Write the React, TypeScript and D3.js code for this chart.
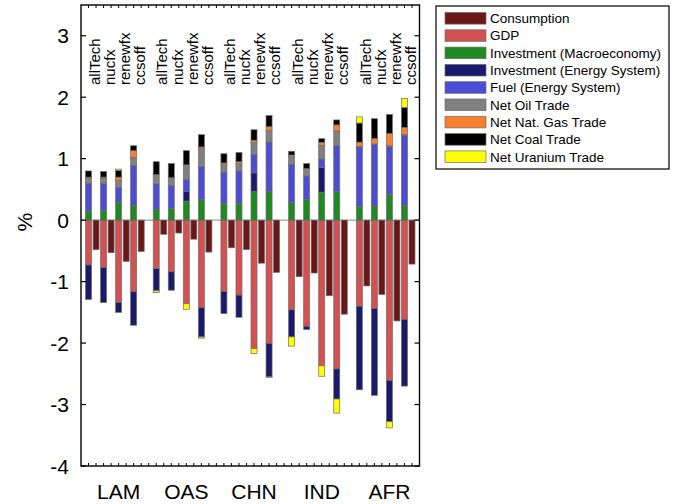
import React from "react";
import * as d3 from "d3";

// Regions and policy scenarios
const regions = ["LAM", "OAS", "CHN", "IND", "AFR"];
const scenarios = ["allTech", "nucfx", "renewfx", "ccsoff"];

// Values in %, ordered region by region, scenarios inside each region
const consumption = [-0.48, -0.53, -0.67, -0.51, -0.23, -0.21, -0.31, -0.52, -0.45, -0.48, -0.7, -0.85, -0.92, -0.86, -1.23, -1.53, -1.07, -1.21, -1.64, -0.715];
const gdp = [-0.73, -0.77, -1.34, -1.165, -0.79, -0.84, -1.36, -1.425, -1.16, -1.22, -2.09, -2.01, -1.46, -1.73, -2.37, -2.42, -1.4, -1.44, -2.61, -1.615];
const invMacro = [0.15, 0.16, 0.29, 0.24, 0.18, 0.19, 0.31, 0.34, 0.27, 0.27, 0.47, 0.47, 0.29, 0.34, 0.455, 0.47, 0.22, 0.23, 0.42, 0.24];
const invEnergy = [-0.56, -0.57, -0.16, -0.545, -0.36, -0.3, 0.16, -0.475, -0.36, -0.36, 0.3, -0.54, -0.44, -0.05, 0.4, -0.49, -1.36, -1.41, -0.67, -1.085];
const fuel = [0.45, 0.44, 0.24, 0.65, 0.41, 0.37, 0.19, 0.53, 0.51, 0.53, 0.3, 0.8, 0.62, 0.38, 0.14, 0.74, 0.97, 1.0, 0.78, 1.14];
const oilTrade = [0.08, 0.08, 0.12, 0.13, 0.15, 0.13, 0.24, 0.29, 0.12, 0.12, 0.19, 0.19, 0.12, 0.12, 0.22, 0.24, 0.01, 0.01, 0.01, 0.01];
const gasTrade = [0.02, 0.02, 0.05, 0.11, 0, 0, 0, 0.03, 0.03, 0.03, 0.04, 0.06, 0.03, 0, 0.05, 0.1, 0.07, 0.09, 0.2, 0.12];
const coalTrade = [0.1, 0.09, 0.11, 0.08, 0.21, 0.23, 0.23, 0.2, 0.15, 0.15, 0.17, 0.18, 0.06, 0.08, 0.06, 0.08, 0.31, 0.32, 0.31, 0.32];
const uraniumTrade = [0, 0, 0.02, 0, -0.03, 0, -0.09, -0.02, 0, 0, -0.08, -0.01, -0.15, 0, -0.17, -0.23, 0.1, 0, -0.1, 0.15];

const yTicks = [-4, -3, -2, -1, 0, 1, 2, 3];

const seriesNames = [
  "Consumption",
  "GDP",
  "Investment (Macroeconomy)",
  "Investment (Energy System)",
  "Fuel (Energy System)",
  "Net Oil Trade",
  "Net Nat. Gas Trade",
  "Net Coal Trade",
  "Net Uranium Trade",
];
const seriesColors = ["#6b1717", "#d55050", "#1f8a22", "#1a1a6c", "#4c4cd6", "#808080", "#fb7d2e", "#000000", "#ffff00"];

const stackKeys = seriesNames.slice(1);
const stackValues = [gdp, invMacro, invEnergy, fuel, oilTrade, gasTrade, coalTrade, uraniumTrade];

const W = 676;
const H = 504;
const font = "'Liberation Sans', Arial, sans-serif";

export default function App() {
  const x = d3.scaleLinear().domain([0, 45]).range([81, 419.5]);
  const y = d3.scaleLinear().domain([-4, 3.5]).range([466, 5]);
  const slot = x(1) - x(0);
  const bw = slot * 0.8;

  const rows = regions.flatMap((r, ri) =>
    scenarios.map((s, si) => {
      const i = ri * 4 + si;
      const row: any = { region: r, scenario: s, pos: 1 + ri * 9 + si * 2, cons: consumption[i] };
      stackKeys.forEach((k, ki) => (row[k] = stackValues[ki][i]));
      return row;
    })
  );

  const stacked = d3.stack<any>().keys(stackKeys).offset(d3.stackOffsetDiverging)(rows);

  const colorOf = (k: string) => seriesColors[seriesNames.indexOf(k)];
  const [x0, x1] = x.range();
  const [yb, yt] = y.range();

  return (
    <svg width={W} height={H} style={{ position: "absolute", left: 0, top: 0, background: "#fff" }} fontFamily={font}>
      {/* zero line */}
      <line x1={x0} x2={x1} y1={y(0)} y2={y(0)} stroke="#8a8a8a" strokeWidth={1} />

      {/* stacked bars */}
      {stacked.map((layer) =>
        layer.map((d, j) => {
          const top = y(Math.max(d[0], d[1]));
          const h = Math.abs(y(d[0]) - y(d[1]));
          if (h < 0.01) return null;
          return (
            <rect key={layer.key + j} x={x(d.data.pos) - bw / 2} y={top} width={bw} height={h}
              fill={colorOf(layer.key)} stroke="#6d6d6d" strokeWidth={0.7} />
          );
        })
      )}

      {/* consumption bars */}
      {rows.map((d, j) => (
        <rect key={"c" + j} x={x(d.pos + 1) - bw / 2} y={y(Math.max(0, d.cons))} width={bw}
          height={Math.abs(y(d.cons) - y(0))} fill={seriesColors[0]} stroke="#6d6d6d" strokeWidth={0.7} />
      ))}

      {/* scenario labels */}
      {rows.map((d, j) => (
        <text key={"s" + j} transform={`translate(${x(d.pos) + 6},85) rotate(-90)`} dy="0.35em"
          fontSize={15} fill="#000">{d.scenario}</text>
      ))}

      {/* frame */}
      <rect x={x0} y={yt} width={x1 - x0} height={yb - yt} fill="none" stroke="#000" strokeWidth={1.4} />

      {/* slot ticks top and bottom */}
      {d3.range(1, 45).map((p) => (
        <g key={"t" + p}>
          <line x1={x(p)} x2={x(p)} y1={yb} y2={yb - 3} stroke="#000" strokeWidth={1} />
          <line x1={x(p)} x2={x(p)} y1={yt} y2={yt + 3} stroke="#000" strokeWidth={1} />
        </g>
      ))}

      {/* y ticks and labels */}
      {yTicks.map((t) => (
        <g key={"y" + t}>
          <line x1={x0} x2={x0 + 5} y1={y(t)} y2={y(t)} stroke="#000" strokeWidth={1.2} />
          <line x1={x1} x2={x1 - 5} y1={y(t)} y2={y(t)} stroke="#000" strokeWidth={1.2} />
          <text x={69} y={y(t)} dy="0.36em" textAnchor="end" fontSize={21}>{t}</text>
        </g>
      ))}

      <text transform={`translate(24,${y(0) + 2}) rotate(-90)`} textAnchor="middle" dy="0.36em" fontSize={21}>%</text>

      {/* region labels */}
      {regions.map((r, ri) => (
        <text key={r} x={x(5 + ri * 9)} y={499} textAnchor="middle" fontSize={21}>{r}</text>
      ))}

      {/* legend */}
      <rect x={436} y={6} width={233} height={163} fill="#fff" stroke="#000" strokeWidth={1.2} />
      {seriesNames.map((n, i) => {
        const cy = 18.3 + i * 17.3;
        return (
          <g key={n}>
            <rect x={445} y={cy - 5.8} width={41} height={11.6} fill={seriesColors[i]} stroke="#6d6d6d" strokeWidth={0.7} />
            <text x={490} y={cy} dy="0.36em" fontSize={13.5}>{n}</text>
          </g>
        );
      })}
    </svg>
  );
}
